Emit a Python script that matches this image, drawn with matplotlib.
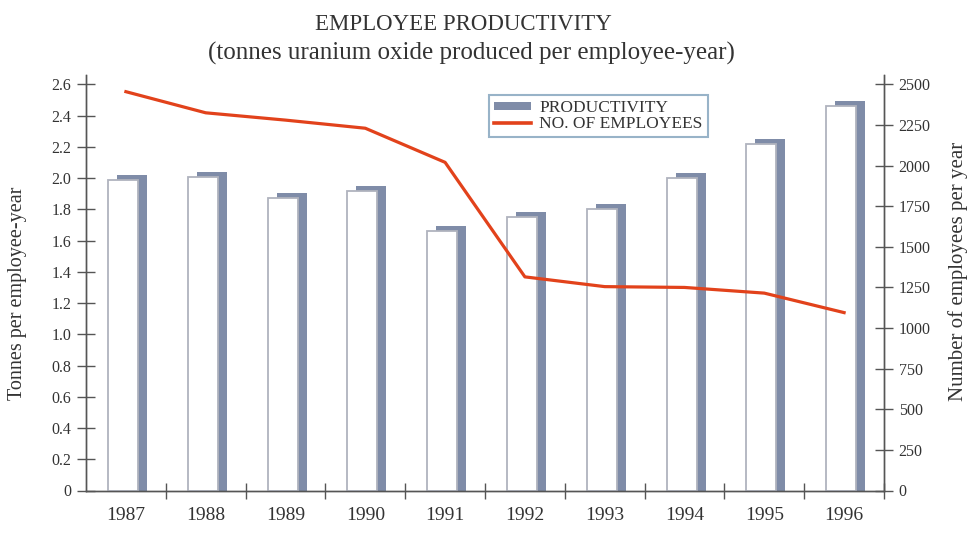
import matplotlib
matplotlib.use("Agg")
import matplotlib.pyplot as plt
from matplotlib.patches import Patch
from matplotlib.lines import Line2D
from matplotlib.ticker import FixedLocator, NullFormatter
import numpy as np

# ---- data ----
years = ['1987', '1988', '1989', '1990', '1991', '1992', '1993', '1994', '1995', '1996']
productivity = [1.99, 2.01, 1.87, 1.92, 1.66, 1.75, 1.80, 2.00, 2.22, 2.46]
employees = [2455, 2325, 2280, 2230, 2020, 1315, 1255, 1250, 1215, 1095]
left_ticks = [0, 0.2, 0.4, 0.6, 0.8, 1.0, 1.2, 1.4, 1.6, 1.8, 2.0, 2.2, 2.4, 2.6]
left_ticklabels = ['0', '0.2', '0.4', '0.6', '0.8', '1.0', '1.2', '1.4', '1.6', '1.8',
                   '2.0', '2.2', '2.4', '2.6']
right_ticks = [0, 250, 500, 750, 1000, 1250, 1500, 1750, 2000, 2250, 2500]

SERIF = ['Liberation Serif', 'DejaVu Serif']
plt.rcParams['font.family'] = SERIF

BAR_SIDE = '#7f8ca8'
BAR_EDGE = '#b0b3be'
LINE_C = '#e2421b'
AX_C = '#555555'
TXT_C = '#333333'

fig = plt.figure(figsize=(9.75, 5.34), dpi=100)
ax = fig.add_axes([86 / 975, 1 - 490.5 / 534, 798 / 975, (490.5 - 75) / 534])
ax2 = ax.twinx()

x = np.arange(len(years))
cat_px = 79.8
unit_px = 406 / 2.6
front_w = 30 / cat_px
front_off = -18 / cat_px
back_off = -9 / cat_px
depth = 5 / unit_px

# back (shadow) face
ax.bar(x + back_off, np.array(productivity) + depth, width=front_w, align='edge',
       color=BAR_SIDE, edgecolor='none', zorder=2)
# front face
ax.bar(x + front_off, productivity, width=front_w, align='edge',
       color='white', edgecolor=BAR_EDGE, linewidth=1.3, zorder=3)

ymax = 2.66
ax.set_ylim(0, ymax)
ax.set_xlim(-0.5, len(years) - 0.5)
ax2.set_ylim(0, ymax / 2.6 * 2500)

ax2.plot(x, employees, color=LINE_C, linewidth=2.3, solid_joinstyle='round', zorder=5)

# spines
for a in (ax, ax2):
    a.spines['top'].set_visible(False)
    for s in ('left', 'right', 'bottom'):
        a.spines[s].set_color(AX_C)
        a.spines[s].set_linewidth(1.0)

ax.set_yticks(left_ticks)
ax.set_yticklabels(left_ticklabels)
ax.tick_params(axis='y', direction='inout', length=13, width=1, color=AX_C,
               labelsize=11.5, labelcolor=TXT_C, pad=4)
ax2.set_yticks(right_ticks)
ax2.tick_params(axis='y', direction='inout', length=13, width=1, color=AX_C,
                labelsize=11.5, labelcolor=TXT_C, pad=4)

ax.set_xticks(x)
ax.set_xticklabels(years)
ax.tick_params(axis='x', which='major', length=0, labelsize=14, labelcolor=TXT_C, pad=12)
ax.xaxis.set_minor_locator(FixedLocator(np.arange(0.5, len(years), 1.0)))
ax.xaxis.set_minor_formatter(NullFormatter())
ax.tick_params(axis='x', which='minor', direction='inout', length=12, width=1, color=AX_C)

# titles
fig.text(0.475, 0.955, 'EMPLOYEE PRODUCTIVITY', ha='center', va='center',
         fontsize=16.5, color=TXT_C)
fig.text(0.484, 0.900, '(tonnes uranium oxide produced per employee-year)', ha='center',
         va='center', fontsize=18, color=TXT_C)

fig.text(0.018, 0.451, 'Tonnes per employee-year', rotation=90, ha='center', va='center',
         fontsize=14.5, color=TXT_C)
fig.text(0.983, 0.492, 'Number of employees per year', rotation=90, ha='center', va='center',
         fontsize=15, color=TXT_C)

handles = [Patch(facecolor=BAR_SIDE, edgecolor='none'),
           Line2D([0], [0], color=LINE_C, linewidth=2.6)]
leg = ax2.legend(handles, ['PRODUCTIVITY', 'NO. OF EMPLOYEES'], loc='upper left',
                 bbox_to_anchor=((489 - 86) / 798, (490.5 - 95) / 415.5),
                 fontsize=12.5, frameon=True, fancybox=False, handlelength=2.1,
                 handleheight=0.4, handletextpad=0.5, borderpad=0.3, labelspacing=0.0,
                 borderaxespad=0)
leg.get_frame().set_edgecolor('#7fa0bb')
leg.get_frame().set_linewidth(1.5)
for t in leg.get_texts():
    t.set_color(TXT_C)

fig.savefig('out.png', dpi=100, facecolor='white')
